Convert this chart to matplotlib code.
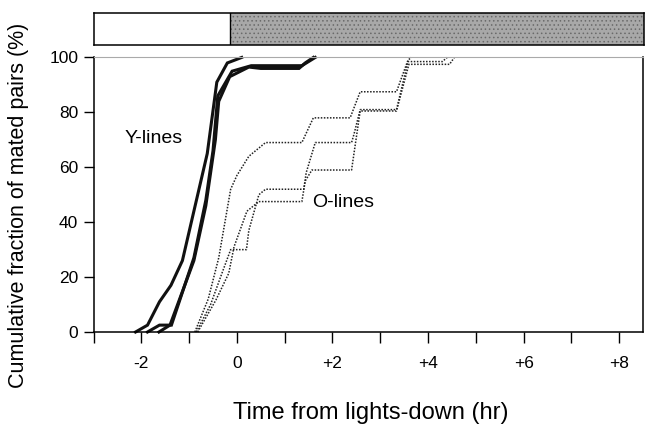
import matplotlib

matplotlib.use("Agg")
import matplotlib.pyplot as plt
from matplotlib.patches import Rectangle

plt.rcParams["font.family"] = ["Liberation Sans", "DejaVu Sans"]
plt.rcParams["hatch.linewidth"] = 0.6

# Y-lines (young flies), cumulative % mated vs. hours from lights-down
y1_x = [-2.12, -1.87, -1.62, -1.38, -1.14, -0.9, -0.62, -0.42, -0.2, 0.1]
y1_y = [0, 2.5, 11, 17, 26, 44, 65, 91, 98, 100]
y2_x = [-1.87, -1.62, -1.37, -0.9, -0.65, -0.5, -0.4, -0.1, 0.3, 1.36, 1.64]
y2_y = [0, 2.5, 2.5, 27, 48, 66, 86, 95, 97, 97, 100]
y3_x = [-1.63, -1.4, -0.9, -0.65, -0.45, -0.38, -0.15, 0.25, 0.5, 1.3, 1.43, 1.6]
y3_y = [0, 2.5, 26, 46, 70, 84, 93, 96.5, 96, 96, 98, 100]

# O-lines (old flies)
o1_x = [-0.88, -0.6, -0.38, -0.13, 0.0, 0.25, 0.6, 1.36, 1.6, 2.37, 2.58, 3.34, 3.58, 3.65]
o1_y = [0, 12, 27, 52, 57, 64, 69, 69, 78, 78, 87.5, 87.5, 99, 100]
o2_x = [-0.85, -0.55, -0.3, -0.13, 0.2, 0.25, 0.46, 0.6, 1.4, 1.45, 1.64, 2.4, 2.45,
        2.58, 3.34, 3.58, 4.3, 4.4]
o2_y = [0, 10, 22, 30, 30, 37, 50, 52, 52, 58, 69, 69, 72, 81, 81, 98.5, 98.5, 100]
o3_x = [-0.82, -0.44, -0.17, -0.06, 0.21, 0.46, 1.36, 1.43, 1.57, 2.4, 2.58, 3.34,
        3.6, 4.45, 4.55]
o3_y = [0, 11.6, 21.4, 31, 44, 47.5, 47.5, 55, 59, 59, 80.5, 80.5, 97.5, 97.5, 100]

x_ticks = list(range(-3, 9))
x_labels = ["", "-2", "", "0", "", "+2", "", "+4", "", "+6", "", "+8"]
y_ticks = [0, 20, 40, 60, 80, 100]
lights_down = -0.15

fig = plt.figure(figsize=(6.45, 4.32), dpi=100)
ax = fig.add_axes([0.145, 0.2315, 0.852, 0.6355])

for xs, ys in [(y1_x, y1_y), (y2_x, y2_y), (y3_x, y3_y)]:
    ax.plot(xs, ys, color="#111111", lw=2.2, solid_joinstyle="miter", clip_on=False)
for xs, ys in [(o1_x, o1_y), (o2_x, o2_y), (o3_x, o3_y)]:
    ax.plot(xs, ys, color="#222222", lw=1.1, ls=(0, (1, 1)), clip_on=False)

ax.text(-1.74, 70.6, "Y-lines", fontsize=14, ha="center", va="center")
ax.text(2.23, 47, "O-lines", fontsize=14, ha="center", va="center")

ax.set_xlim(-3, 8.5)
ax.set_ylim(0, 100)
ax.set_xticks(x_ticks)
ax.set_xticklabels(x_labels)
ax.set_yticks(y_ticks)
ax.tick_params(direction="out", length=8, width=1, labelsize=12.5, pad=9)
ax.tick_params(axis="y", length=7, pad=4)
ax.spines["top"].set_color("#aaaaaa")
ax.spines["top"].set_linewidth(0.8)
for s in ["left", "bottom", "right"]:
    ax.spines[s].set_linewidth(1.1)

fig.text(0.028, 0.525, "Cumulative fraction of mated pairs (%)", rotation=90,
         fontsize=15.5, ha="center", va="center")
fig.text(0.575, 0.044, "Time from lights-down (hr)", fontsize=17,
         ha="center", va="center")

# light/dark bar above the plot
bar = fig.add_axes([0.145, 0.896, 0.853, 0.075])
bar.set_xlim(-3, 8.5)
bar.set_ylim(0, 1)
bar.add_patch(Rectangle((-3, 0), lights_down + 3, 1, facecolor="white", edgecolor="none"))
bar.add_patch(Rectangle((lights_down, 0), 8.5 - lights_down, 1, facecolor="#a8a8a8",
                        edgecolor="#6a6a6a", hatch="....", lw=0))
bar.axvline(lights_down, color="black", lw=1)
bar.set_xticks([])
bar.set_yticks([])
for s in bar.spines.values():
    s.set_linewidth(1.1)

fig.savefig("out.png", dpi=100)
